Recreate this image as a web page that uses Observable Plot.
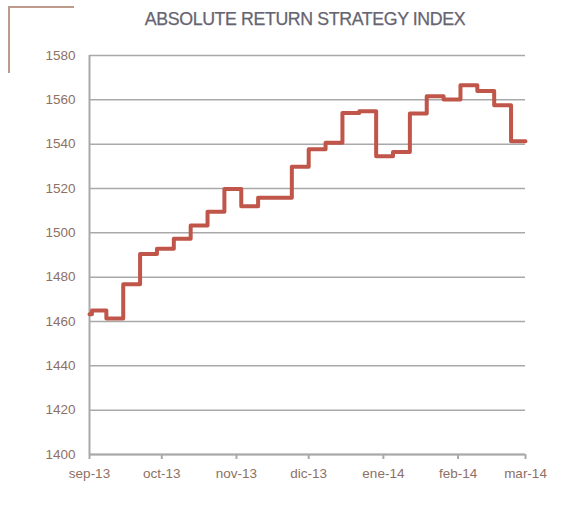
<!DOCTYPE html>
<html>
<head>
<meta charset="utf-8">
<script src="https://cdn.jsdelivr.net/npm/d3@7"></script>
<script src="https://cdn.jsdelivr.net/npm/@observablehq/plot@0.6"></script>
<style>
  html, body { margin: 0; padding: 0; background: #fff; }
  #wrap { position: relative; width: 581px; height: 506px; overflow: hidden; }
  #title { position: absolute; left: 0; width: 610px; top: 9px; text-align: center;
    font-family: "Liberation Sans", Arial, sans-serif; font-size: 17.8px; color: #666470; letter-spacing: -0.4px;
    -webkit-text-stroke: 0.25px #666470; }
  #decoH { position: absolute; left: 8px; top: 6px; width: 66px; height: 2px; background: #bc9a8c; }
  #decoV { position: absolute; left: 8px; top: 6px; width: 2px; height: 67px; background: #bc9a8c; }
  #chart { position: absolute; left: 0; top: 0; }
</style>
</head>
<body>
<div id="wrap">
  <div id="decoH"></div>
  <div id="decoV"></div>
  <div id="chart"></div>
  <div id="title">ABSOLUTE RETURN STRATEGY INDEX</div>
</div>
<script>
const dates = [
  "2013-09-01","2013-09-02","2013-09-08","2013-09-15","2013-09-22","2013-09-29",
  "2013-10-06","2013-10-13","2013-10-20","2013-10-27",
  "2013-11-03","2013-11-10","2013-11-17","2013-11-24",
  "2013-12-01","2013-12-08","2013-12-15","2013-12-22","2013-12-29",
  "2014-01-05","2014-01-12","2014-01-19","2014-01-26",
  "2014-02-02","2014-02-09","2014-02-16","2014-02-23","2014-03-01"
];
const values = [
  1463.3, 1465.0, 1461.4, 1476.8, 1490.4, 1492.8,
  1497.3, 1503.3, 1509.5, 1519.8,
  1512.0, 1515.8, 1515.8, 1529.8,
  1537.7, 1540.6, 1554.1, 1554.9, 1534.6,
  1536.5, 1553.8, 1561.6, 1560.2,
  1566.6, 1564.0, 1557.6, 1541.3, 1541.3
];
const tickDates = ["2013-09-01","2013-10-01","2013-11-01","2013-12-01","2014-01-01","2014-02-01","2014-03-01"];
const tickLabels = ["sep-13","oct-13","nov-13","dic-13","ene-14","feb-14","mar-14"];
const yTicks = [1400, 1420, 1440, 1460, 1480, 1500, 1520, 1540, 1560, 1580];

const data = dates.map((d, i) => ({date: new Date(d + "T00:00:00Z"), value: values[i]}));
const xTicks = tickDates.map(d => new Date(d + "T00:00:00Z"));
const labelMap = new Map(xTicks.map((d, i) => [+d, tickLabels[i]]));

const gridColor = "#a9a9a9";
const labelColor = "#8e7064";

const chart = Plot.plot({
  width: 581,
  height: 506,
  marginLeft: 89,
  marginRight: 56,
  marginTop: 55,
  marginBottom: 52,
  style: {fontFamily: "'Liberation Sans', Arial, sans-serif", fontSize: "13.5px", background: "transparent"},
  x: {type: "utc", domain: [xTicks[0], xTicks[xTicks.length - 1]]},
  y: {domain: [1400, 1580]},
  marks: [
    Plot.gridY(yTicks, {stroke: gridColor, strokeOpacity: 1, strokeWidth: 1.5}),
    Plot.ruleY([1400], {stroke: gridColor, strokeWidth: 2}),
    Plot.ruleX([xTicks[0]], {stroke: gridColor, strokeWidth: 2}),
    Plot.axisY(yTicks, {tickSize: 0, tickPadding: 14, fill: labelColor, fontSize: 13.5, label: null,
      tickFormat: d => String(d)}),
    Plot.axisX(xTicks, {tickSize: 5, stroke: gridColor, strokeWidth: 2, fill: labelColor, fontSize: 13.5,
      tickPadding: 9, label: null, tickFormat: d => labelMap.get(+d)}),
    Plot.line(data, {x: "date", y: "value", curve: "step-after", stroke: "#c0554a", strokeWidth: 4,
      strokeLinejoin: "round", strokeLinecap: "round"})
  ]
});
document.getElementById("chart").appendChild(chart);
</script>
</body>
</html>
